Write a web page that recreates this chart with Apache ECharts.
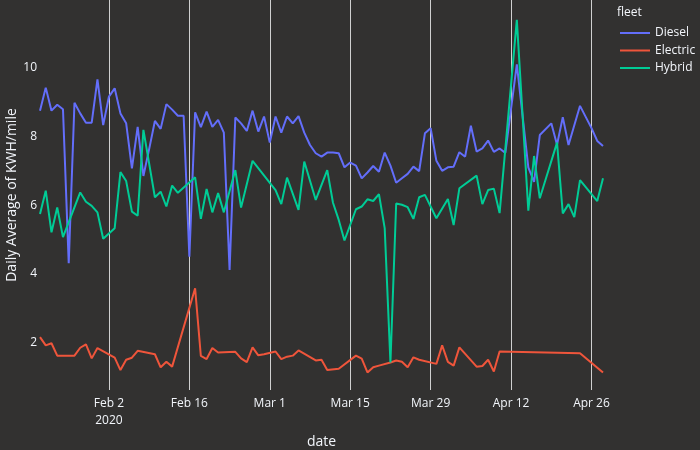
<!DOCTYPE html>
<html>
<head>
<meta charset="utf-8">
<script src="https://cdn.jsdelivr.net/npm/echarts@6/dist/echarts.min.js"></script>
<style>
html,body{margin:0;padding:0;background:#323130;}
#chart{width:700px;height:450px;}
</style>
</head>
<body>
<div id="chart"></div>
<script>
const dates = [
'2020-01-21','2020-01-22','2020-01-23','2020-01-24','2020-01-25','2020-01-26','2020-01-27','2020-01-28','2020-01-29','2020-01-30',
'2020-01-31','2020-02-01','2020-02-02','2020-02-03','2020-02-04','2020-02-05','2020-02-06','2020-02-07','2020-02-08','2020-02-09',
'2020-02-10','2020-02-11','2020-02-12','2020-02-13','2020-02-14','2020-02-15','2020-02-16','2020-02-17','2020-02-18','2020-02-19',
'2020-02-20','2020-02-21','2020-02-22','2020-02-23','2020-02-24','2020-02-25','2020-02-26','2020-02-27','2020-02-28','2020-02-29',
'2020-03-01','2020-03-02','2020-03-03','2020-03-04','2020-03-05','2020-03-06','2020-03-07','2020-03-08','2020-03-09','2020-03-10',
'2020-03-11','2020-03-12','2020-03-13','2020-03-14','2020-03-15','2020-03-16','2020-03-17','2020-03-18','2020-03-19','2020-03-20',
'2020-03-21','2020-03-22','2020-03-23','2020-03-24','2020-03-25','2020-03-26','2020-03-27','2020-03-28','2020-03-29','2020-03-30',
'2020-03-31','2020-04-01','2020-04-02','2020-04-03','2020-04-04','2020-04-05','2020-04-06','2020-04-07','2020-04-08','2020-04-09',
'2020-04-10','2020-04-11','2020-04-12','2020-04-13','2020-04-14','2020-04-15','2020-04-16','2020-04-17','2020-04-18','2020-04-19',
'2020-04-20','2020-04-21','2020-04-22','2020-04-23','2020-04-24','2020-04-25','2020-04-26','2020-04-27','2020-04-28'
];

const diesel = [
8.75, 9.42, 8.75, 8.92, 8.79, 4.31, 8.98, 8.67, 8.40, 8.40,
9.66, 8.33, 9.16, 9.40, 8.67, 8.38, 7.07, 8.28, 6.85, 7.63,
8.45, 8.22, 8.94, 8.78, 8.60, 8.60, 4.50, 8.70, 8.27, 8.72,
8.28, 8.48, 8.11, 4.11, 8.55, 8.38, 8.16, 8.75, 8.14, 8.58,
7.82, 8.58, 8.11, 8.58, 8.38, 8.59, 8.11, 7.75, 7.51, 7.41,
7.53, 7.53, 7.51, 7.10, 7.24, 7.15, 6.78, 6.95, 7.14, 6.97,
7.53, 7.15, 6.65, 6.78, 6.91, 7.12, 6.99, 8.09, 8.24, 7.29,
7.00, 7.10, 7.12, 7.54, 7.41, 8.31, 7.56, 7.65, 7.88, 7.55,
7.65, 7.52, null, 10.10, null, 7.10, 6.68, 8.04, null, 8.38,
7.76, 8.56, 7.75, null, 8.89, null, 8.24, 7.87, 7.72
];

const electric = [
2.16, 1.92, 1.98, 1.62, null, null, 1.62, 1.85, 1.95, 1.54,
1.84, null, null, 1.56, 1.20, 1.50, 1.56, 1.76, null, null,
1.66, 1.28, 1.44, 1.30, null, null, null, 3.58, 1.61, 1.52,
1.84, 1.71, null, null, 1.73, 1.54, 1.43, 1.86, 1.63, 1.66,
null, 1.74, 1.52, 1.59, 1.62, 1.77, null, null, 1.48, 1.50,
1.20, null, 1.24, null, null, 1.62, 1.53, 1.13, 1.28, 1.33,
null, 1.42, 1.48, 1.44, 1.28, 1.57, 1.50, null, null, 1.38,
1.92, 1.44, 1.33, 1.86, null, null, 1.30, 1.32, 1.50, 1.16,
1.74, null, null, null, null, null, null, null, null, null,
null, null, null, null, 1.69, null, null, null, 1.13
];

const hybrid = [
5.74, 6.42, 5.21, 5.93, 5.07, null, null, 6.37, 6.10, 5.98,
5.79, 5.02, null, 5.33, 6.96, 6.70, 5.81, 5.69, 8.19, null,
6.23, 6.39, 5.96, 6.57, 6.36, null, null, 6.81, 5.60, 6.47,
5.79, 6.35, 5.79, null, 7.02, 5.93, null, 7.29, null, null,
null, 6.44, 6.03, 6.80, null, 5.86, 7.27, null, 6.15, null,
7.02, 6.07, 5.57, 4.97, null, 5.88, 5.96, 6.17, 6.12, 6.32,
5.33, 1.42, 6.05, 6.01, 5.94, 5.60, 6.23, 6.30, null, 5.62,
null, 6.18, 5.42, 6.49, null, null, 6.86, 6.03, 6.44, 6.48,
5.77, null, null, 11.39, null, 5.84, 7.43, 6.20, null, null,
7.82, 5.76, 6.03, 5.65, 6.73, null, null, 6.12, 6.78
];

const xTickDates = ['2020-02-02','2020-02-16','2020-03-01','2020-03-15','2020-03-29','2020-04-12','2020-04-26'];
const yTickValues = [2, 4, 6, 8, 10];
const seriesNames = ['Diesel', 'Electric', 'Hybrid'];

const MONTHS = ['Jan','Feb','Mar','Apr','May','Jun','Jul','Aug','Sep','Oct','Nov','Dec'];
function ts(s) { const p = s.split('-').map(Number); return Date.UTC(p[0], p[1] - 1, p[2]); }
function pairs(vals) {
  const out = [];
  vals.forEach((v, i) => { if (v !== null) out.push([ts(dates[i]), v]); });
  return out;
}
const xTicks = xTickDates.map(ts);
const firstTick = xTicks[0];
const textColor = '#f2f5fa';
const font = 'Open Sans';

const chart = echarts.init(document.getElementById('chart'), null, {renderer: 'canvas'});
chart.setOption({
  backgroundColor: '#323130',
  animation: false,
  textStyle: {fontFamily: font, color: textColor},
  title: {
    text: 'fleet', left: 617, top: 7, padding: 0,
    textStyle: {fontFamily: font, fontSize: 12, fontWeight: 'normal', color: textColor}
  },
  legend: {
    orient: 'vertical', left: 619, top: 27, padding: 0,
    itemWidth: 30, itemHeight: 14, itemGap: 5.5,
    itemStyle: {opacity: 0},
    data: seriesNames,
    textStyle: {fontFamily: font, fontSize: 12, color: textColor}
  },
  grid: {left: 40, right: 97, top: 0, bottom: 60, containLabel: false, outerBoundsMode: 'none'},
  xAxis: {
    type: 'value',
    min: ts(dates[0]),
    max: ts(dates[dates.length - 1]),
    name: 'date', nameLocation: 'middle', nameGap: 45, nameMoveOverlap: false,
    nameTextStyle: {fontFamily: font, fontSize: 14, color: textColor},
    axisLine: {show: false},
    axisTick: {show: false, customValues: xTicks},
    splitLine: {show: true, lineStyle: {color: '#d0d0d0', width: 1}},
    axisLabel: {
      customValues: xTicks,
      margin: 5,
      fontFamily: font, fontSize: 12, color: textColor, lineHeight: 17,
      formatter: function (v) {
        const d = new Date(v);
        const s = MONTHS[d.getUTCMonth()] + ' ' + d.getUTCDate();
        return v === firstTick ? s + '\n' + d.getUTCFullYear() : s;
      }
    }
  },
  yAxis: {
    type: 'value',
    min: 0.62, max: 11.97,
    name: 'Daily Average of KWH/mile', nameLocation: 'middle', nameGap: 21, nameMoveOverlap: false,
    nameTextStyle: {fontFamily: font, fontSize: 14, color: textColor},
    axisLine: {show: false},
    axisTick: {show: false, customValues: yTickValues},
    splitLine: {show: false},
    axisLabel: {customValues: yTickValues, margin: 3, fontFamily: font, fontSize: 12, color: textColor}
  },
  series: [
    {name: 'Diesel', type: 'line', symbol: 'none', data: pairs(diesel),
     lineStyle: {width: 2, color: '#636efa'}, itemStyle: {color: '#636efa'}},
    {name: 'Electric', type: 'line', symbol: 'none', data: pairs(electric),
     lineStyle: {width: 2, color: '#EF553B'}, itemStyle: {color: '#EF553B'}},
    {name: 'Hybrid', type: 'line', symbol: 'none', data: pairs(hybrid),
     lineStyle: {width: 2, color: '#00cc96'}, itemStyle: {color: '#00cc96'}}
  ]
});
</script>
</body>
</html>
